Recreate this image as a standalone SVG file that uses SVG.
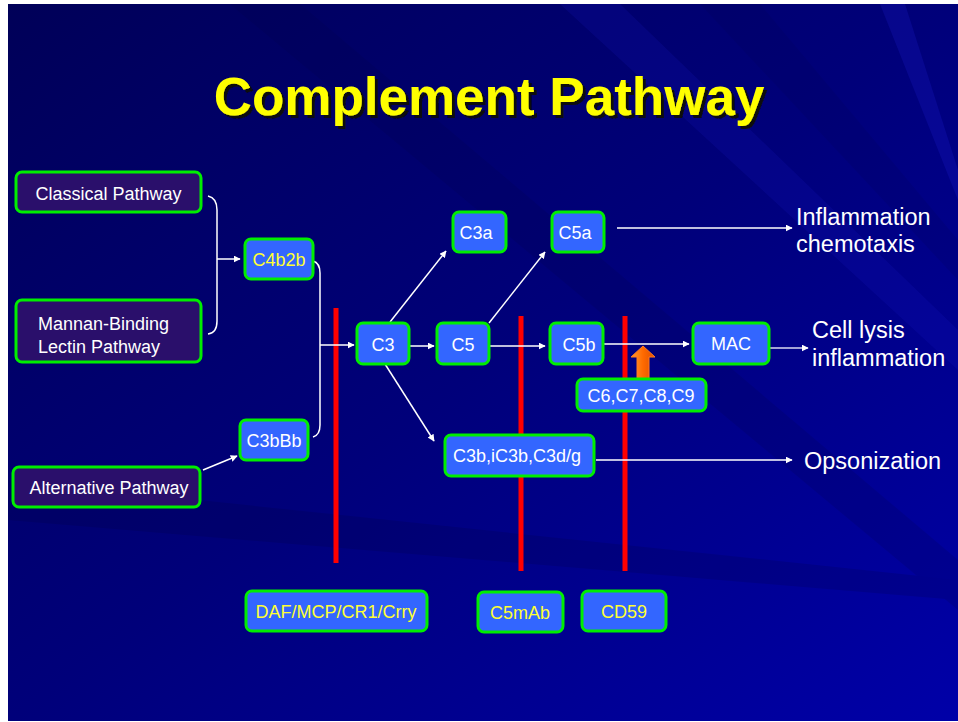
<svg xmlns="http://www.w3.org/2000/svg" width="958" height="722" viewBox="0 0 958 722">
<defs>
<linearGradient id="bg" x1="0" y1="0" x2="1" y2="1">
<stop offset="0" stop-color="#000058"/>
<stop offset="0.5" stop-color="#00007a"/>
<stop offset="1" stop-color="#0000a8"/>
</linearGradient>
<linearGradient id="orange" x1="0" y1="0" x2="1" y2="0">
<stop offset="0" stop-color="#ff9a30"/>
<stop offset="0.5" stop-color="#ff6a00"/>
<stop offset="1" stop-color="#e05000"/>
</linearGradient>
<filter id="shadow" x="-5%" y="-20%" width="110%" height="140%">
<feDropShadow dx="3" dy="3" stdDeviation="0.5" flood-color="#101010" flood-opacity="1"/>
</filter>
<marker id="ah" viewBox="0 0 10 10" refX="9" refY="5" markerWidth="7" markerHeight="7" markerUnits="userSpaceOnUse" orient="auto">
<path d="M0,0 L10,5 L0,10 z" fill="#ffffff"/>
</marker>
<style>
.path{fill:#2a0f6b;stroke:#00ee00;stroke-width:3}
.blue{fill:#3366ff;stroke:#00ee00;stroke-width:3}
.t{font-family:"Liberation Sans",Arial,sans-serif;font-size:18px;fill:#ffffff}
.ty{font-family:"Liberation Sans",Arial,sans-serif;font-size:18px;fill:#ffff33}
.big{font-family:"Liberation Sans",Arial,sans-serif;font-size:23.5px;fill:#ffffff}
.c{stroke:#ffffff;stroke-width:1.5;fill:none}
.cm{stroke:#ffffff;stroke-width:1.5;fill:none;marker-end:url(#ah)}
.red{stroke:#ff0000;stroke-width:5}
</style>
</defs>
<rect x="0" y="0" width="958" height="722" fill="#ffffff"/>
<rect x="8" y="4" width="950" height="717" fill="url(#bg)"/>
<g opacity="0.15">
<polygon points="230,4 300,4 958,560 958,610" fill="#000040"/>
<polygon points="560,4 620,4 958,330 958,370" fill="#2020d0"/>
<polygon points="880,4 905,4 958,170 958,200" fill="#3030ff"/>
<polygon points="8,480 8,520 958,600 958,580" fill="#000030"/>
<polygon points="700,4 760,4 958,240 958,280" fill="#000050"/>
</g>
<text x="489" y="115" text-anchor="middle" font-family="'Liberation Sans',Arial,sans-serif" font-weight="bold" font-size="53" fill="#ffff00" filter="url(#shadow)">Complement Pathway</text>
<g id="inhibitors">
<line class="red" x1="336" y1="308" x2="336" y2="563"/>
<line class="red" x1="521" y1="316" x2="521" y2="571"/>
<line class="red" x1="625" y1="316" x2="625" y2="571"/>
</g>
<g id="connectors">
<path class="c" d="M208,196 Q217,198 217,210 L217,321 Q217,333 208,334"/>
<line class="cm" x1="217" y1="259" x2="240" y2="259"/>
<path class="c" d="M313,261 Q320,263 320,273 L320,425 Q320,435 313,437"/>
<line class="cm" x1="320" y1="345" x2="354" y2="345"/>
<line class="cm" x1="203" y1="470" x2="237" y2="456"/>
<line class="cm" x1="390" y1="322" x2="446" y2="251"/>
<line class="cm" x1="385" y1="364" x2="434" y2="441"/>
<line class="cm" x1="409" y1="346" x2="434" y2="346"/>
<line class="cm" x1="489" y1="323" x2="545" y2="252"/>
<line class="cm" x1="489" y1="346" x2="545" y2="346"/>
<line class="cm" x1="617" y1="228" x2="792" y2="228"/>
<line class="cm" x1="604" y1="344" x2="689" y2="344"/>
<line class="cm" x1="770" y1="348" x2="808" y2="348" style="stroke:#d8d8f0"/>
<line class="cm" x1="596" y1="460" x2="792" y2="460"/>
<polygon points="637,379 637,357 631,357 643,346 655,357 649,357 649,379" fill="url(#orange)" stroke="#ff7a20" stroke-width="1"/>
</g>
<g id="classical"><rect class="path" x="16" y="172" width="185" height="40" rx="6"/><text class="t" x="108.5" y="200" text-anchor="middle" font-size="18.5">Classical Pathway</text></g>
<g id="mbl"><rect class="path" x="16" y="300" width="185" height="62" rx="6"/><text class="t" x="38" y="330">Mannan-Binding</text><text class="t" x="38" y="353">Lectin Pathway</text></g>
<g id="alternative"><rect class="path" x="13" y="467" width="187" height="40" rx="6"/><text class="t" x="109" y="494" text-anchor="middle" font-size="17.5">Alternative Pathway</text></g>
<g id="c4b2b"><rect class="blue" x="245" y="239" width="68" height="40" rx="6"/><text class="ty" x="279" y="266" text-anchor="middle">C4b2b</text></g>
<g id="c3bbb"><rect class="blue" x="240" y="420" width="68" height="40" rx="6"/><text class="t" x="274" y="447" text-anchor="middle">C3bBb</text></g>
<g id="c3"><rect class="blue" x="357" y="323" width="52" height="41" rx="6"/><text class="t" x="383" y="351" text-anchor="middle">C3</text></g>
<g id="c5"><rect class="blue" x="437" y="323" width="52" height="41" rx="6"/><text class="t" x="463" y="351" text-anchor="middle">C5</text></g>
<g id="c5b"><rect class="blue" x="550" y="323" width="53" height="41" rx="6"/><text class="t" x="579" y="351" text-anchor="middle">C5b</text></g>
<g id="c3a"><rect class="blue" x="453" y="212" width="53" height="40" rx="6"/><text class="t" x="476" y="239" text-anchor="middle">C3a</text></g>
<g id="c5a"><rect class="blue" x="552" y="212" width="52" height="40" rx="6"/><text class="t" x="575" y="239" text-anchor="middle">C5a</text></g>
<g id="mac"><rect class="blue" x="693" y="323" width="76" height="41" rx="6"/><text class="t" x="731" y="350" text-anchor="middle">MAC</text></g>
<g id="c6789"><rect class="blue" x="577" y="379" width="129" height="32" rx="6"/><text class="t" x="641" y="402" text-anchor="middle">C6,C7,C8,C9</text></g>
<g id="c3b"><rect class="blue" x="445" y="435" width="149" height="41" rx="6"/><text class="t" x="517" y="462" text-anchor="middle">C3b,iC3b,C3d/g</text></g>
<g id="daf"><rect class="blue" x="246" y="591" width="181" height="40" rx="6"/><text class="ty" x="336" y="618" text-anchor="middle">DAF/MCP/CR1/Crry</text></g>
<g id="c5mab"><rect class="blue" x="478" y="592" width="85" height="40" rx="6"/><text class="ty" x="520" y="619" text-anchor="middle">C5mAb</text></g>
<g id="cd59"><rect class="blue" x="582" y="591" width="84" height="40" rx="6"/><text class="ty" x="624" y="618" text-anchor="middle">CD59</text></g>
<g id="outcomes">
<text class="big" x="796" y="225">Inflammation</text>
<text class="big" x="796" y="252">chemotaxis</text>
<text class="big" x="812" y="338">Cell lysis</text>
<text class="big" x="812" y="366">inflammation</text>
<text class="big" x="804" y="469">Opsonization</text>
</g>
</svg>
